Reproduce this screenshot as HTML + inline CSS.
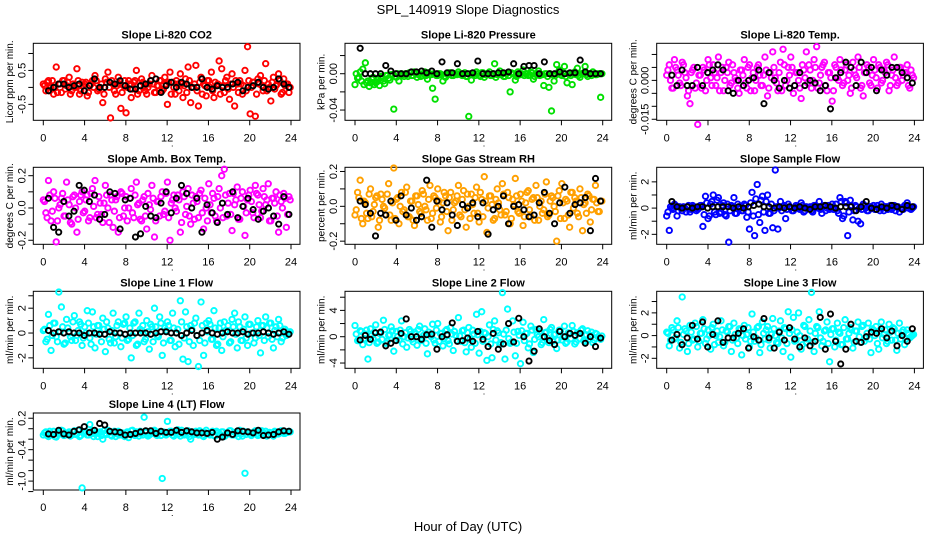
<!DOCTYPE html>
<html><head><meta charset="utf-8">
<style>
html,body{margin:0;padding:0;background:#fff;}
svg{display:block;font-family:"Liberation Sans",sans-serif;}
</style></head>
<body>
<svg id="fig" width="936" height="540" viewBox="0 0 936 540" xmlns="http://www.w3.org/2000/svg">
<text x="468" y="14" text-anchor="middle" font-size="13">SPL_140919  Slope Diagnostics</text>
<text x="468" y="531" text-anchor="middle" font-size="13">Hour of Day (UTC)</text>
</svg>
<script>
// ---------- data ----------
const hourTicks = [0,4,8,12,16,20,24];

const titles = ["Slope Li-820 CO2","Slope Li-820 Pressure","Slope Li-820 Temp.","Slope Amb. Box Temp.","Slope Gas Stream RH","Slope Sample Flow","Slope Line 1 Flow","Slope Line 2 Flow","Slope Line 3 Flow","Slope Line 4 (LT) Flow"];
const yTitles = ["Licor ppm per min.","kPa per min.","degrees C per min.","degrees C per min.","percent per min.","ml/min per min.","ml/min per min.","ml/min per min.","ml/min per min.","ml/min per min."];
const colors = ["#ff0000","#00e000","#ff00ff","#ff00ff","#ffa000","#0000ff","#00ffff","#00ffff","#00ffff","#00ffff"];
const yMax = [1.3,0.0335,0.0143,0.252,0.224,3.11,3.36,6.9,3.9,0.30];
const yMin = [-0.97,-0.0513,-0.0154,-0.225,-0.218,-2.76,-2.84,-4.8,-2.88,-1.17];
const yTicks = [[-0.5,0,0.5,1],[-0.04,-0.02,0,0.02],[-0.015,-0.01,-0.005,0,0.005,0.01],[-0.2,-0.1,0,0.1,0.2],[-0.2,-0.1,0,0.1,0.2],[-2,-1,0,1,2],[-2,-1,0,1,2,3],[-4,-2,0,2,4,6],[-2,-1,0,1,2,3],[-1.2,-1.0,-0.8,-0.6,-0.4,-0.2,0,0.2]];
const yTickLabels = [["-0.5","","0.5",""],["-0.04","","0.00",""],["-0.015","","","0.000","",""],["-0.2","","0.0","","0.2"],["-0.2","","0.0","","0.2"],["-2","","0","","2"],["-2","","0","","2",""],["-4","","0","","4",""],["-2","","0","","2",""],["","-1.0","","","-0.4","","","0.2"]];

const co2Vals = [0.1,-0.1,0.2,0.0,-0.2,0.6,0.1,-0.15,0.2,0.05,0.3,-0.1,0.0,0.55,-0.2,0.15,0.1,-0.25,0.05,0.2,0.35,-0.1,0.0,-0.45,0.25,0.45,-0.9,0.1,-0.2,0.3,-0.62,0.05,-0.75,0.2,-0.3,0.15,0.5,-0.1,0.25,0.0,-0.2,0.1,0.35,-0.15,0.05,0.2,-0.1,0.3,-0.5,0.45,0.15,-0.2,0.1,0.4,-0.3,0.25,0.6,-0.45,0.0,0.65,-0.55,0.3,0.1,-0.25,0.2,0.45,-0.3,0.05,0.78,0.55,-0.15,0.3,-0.35,0.4,-0.55,0.1,0.2,-0.2,0.5,1.2,-0.78,0.15,-0.85,0.25,0.35,-0.1,0.7,0.1,-0.4,0.3,0.05,0.4,-0.2,0.25,0.1,-0.15];
const co2Core = [0.05,0.15,-0.1,0.2,0.0,-0.15,0.1,0.2,-0.05,0.15,-0.2,0.1,0.0,0.2,-0.1,0.05,0.15,-0.15,0.1,0.0,0.2,-0.05,0.1,-0.2,0.15,0.0,0.2,-0.1,0.05,0.1,-0.15,0.2,0.0,0.1,-0.05,0.2,-0.2,0.05,0.15,-0.1,0.0,0.2,0.1,-0.15,0.05,0.2,-0.05,0.1,0.15,-0.2,0.0,0.2,-0.1,0.1,0.05,-0.15,0.2,0.0,0.1,-0.1,0.15,-0.2,0.05,0.2,0.0,-0.1,0.15,0.1,-0.2,0.05,0.2,-0.05,0.1,0.0,0.2,-0.15,0.1,0.05,-0.1,0.2,0.0,0.15,-0.2,0.1,0.05,0.2,-0.1,0.0,0.15,-0.05,0.1,0.2,-0.15,0.05,0.1,0.0];
const co2Black = [-0.1,0.0,0.1,0.1,0.0,0.05,0.1,-0.1,0.05,0.25,0.0,0.0,0.15,0.1,0.2,0.05,-0.05,-0.05,0.05,0.1,0.2,0.25,-0.15,0.05,0.15,0.0,0.15,0.1,0.0,0.0,0.25,0.0,-0.05,0.05,0.0,0.0,0.1,0.15,-0.1,0.0,0.05,0.15,0.0,-0.05,0.0,0.25,0.1,0.0];
const presVals = [-0.012,-0.005,0.002,0.005,0.012,-0.008,-0.01,-0.004,-0.01,-0.006,-0.003,-0.008,-0.002,-0.005,-0.001,-0.039,-0.004,-0.008,0.0,-0.003,-0.001,0.001,-0.002,0.002,-0.004,0.0,-0.002,0.002,-0.006,-0.001,-0.016,-0.028,-0.002,0.0,-0.008,-0.004,-0.001,0.001,-0.002,0.0,0.002,-0.001,0.0,-0.003,-0.047,-0.007,0.0,0.002,-0.002,0.001,-0.004,0.0,0.002,-0.002,0.011,-0.001,0.003,0.0,-0.003,0.001,-0.02,0.0,-0.007,0.002,-0.001,0.004,0.0,-0.002,0.002,-0.006,0.0,0.003,-0.001,-0.013,0.0,-0.015,-0.041,-0.008,0.01,0.004,-0.002,0.008,-0.01,0.0,-0.012,0.002,0.006,-0.004,0.0,0.008,-0.003,0.0,0.002,-0.001,0.0,-0.026];
const presCore = [0.0,-0.004,-0.008,-0.012,-0.01,-0.014,-0.006,-0.012,-0.009,-0.013,-0.004,-0.011,-0.002,-0.007,-0.001,-0.003,0.0,-0.002,-0.001,0.0,-0.003,0.001,-0.002,0.0,-0.001,-0.003,0.0,-0.002,0.001,-0.001,0.0,-0.002,0.0,-0.001,-0.003,0.0,0.001,-0.002,0.0,-0.001,0.0,-0.002,0.001,-0.003,0.0,-0.001,-0.002,0.0,-0.003,0.001,-0.001,0.0,-0.002,0.0,-0.004,0.0,-0.001,-0.003,0.0,-0.002,0.001,0.0,-0.003,-0.001,0.0,-0.002,0.0,-0.001,0.001,-0.003,0.0,-0.002,-0.001,0.0,-0.003,0.0,-0.001,-0.002,0.0,-0.001,0.001,-0.003,0.0,-0.002,0.0,-0.001,-0.002,0.0,0.001,-0.001,0.0,-0.002,0.0,-0.001,0.0,0.0];
const presBlack = [0.028,0.0,0.0,0.0,0.0,0.009,0.003,0.0,0.0,0.0,0.002,0.002,0.003,0.001,0.003,0.0,0.013,0.001,0.001,0.011,0.0,0.0,0.001,0.014,0.0,0.0,0.0,0.001,0.001,0.002,0.011,0.0,0.008,0.009,0.009,0.0,0.013,0.0,0.0,0.002,0.0,0.001,0.001,0.015,0.002,0.0,0.0,0.0];
const tempVals = [0.002,0.006,-0.003,0.008,0.004,-0.001,0.007,0.003,-0.006,-0.009,0.004,-0.003,-0.017,0.002,0.005,-0.004,0.008,0.001,0.006,-0.002,0.009,0.003,-0.004,0.005,0.007,-0.001,0.003,0.0,-0.005,0.004,0.008,-0.003,0.006,0.001,-0.004,0.005,0.002,-0.002,0.009,-0.006,0.003,0.011,0.001,-0.004,0.007,0.012,-0.002,0.005,0.009,-0.005,0.003,0.0,-0.007,0.004,0.011,0.006,-0.003,0.008,0.013,-0.001,0.005,0.007,-0.004,0.003,-0.008,0.006,0.001,0.008,-0.002,0.004,0.0,-0.005,0.007,0.002,0.009,-0.003,-0.006,0.003,0.005,-0.002,0.008,0.001,0.006,-0.001,0.004,0.007,-0.004,0.002,0.009,-0.002,0.005,0.0,0.003,0.006,-0.003,0.002];
const tempCore = [0.004,0.0,-0.003,0.005,0.002,-0.002,0.006,0.001,-0.004,0.003,0.005,-0.001,0.002,-0.003,0.004,0.0,0.006,-0.002,0.003,0.001,-0.004,0.005,0.0,0.003,-0.002,0.006,0.001,-0.003,0.004,0.002,-0.001,0.005,-0.004,0.003,0.0,0.006,-0.002,0.002,0.004,-0.003,0.001,0.005,-0.001,0.003,-0.004,0.006,0.0,0.002,0.005,-0.002,0.003,-0.003,0.006,0.001,-0.001,0.004,0.0,0.005,-0.003,0.002,0.006,-0.002,0.003,0.001,-0.004,0.005,0.0,0.004,-0.001,0.006,0.002,-0.003,0.004,0.001,0.005,-0.002,0.003,0.006,-0.001,0.002,0.004,-0.003,0.005,0.0,0.003,0.006,-0.002,0.004,0.001,-0.001,0.005,0.002,0.003,-0.002,0.004,0.001];
const tempBlack = [0.002,-0.002,0.004,-0.002,-0.002,0.005,-0.002,0.003,0.004,0.006,0.004,-0.004,-0.005,0.0,-0.002,0.0,0.001,0.004,-0.009,0.003,0.0,-0.003,0.0,-0.003,-0.002,0.003,-0.002,0.0,-0.001,-0.004,-0.002,-0.011,0.001,0.003,0.007,0.005,-0.002,0.007,0.003,0.005,-0.004,0.004,0.002,0.005,0.005,0.003,0.001,-0.001];
const ambVals = [0.05,-0.03,0.17,-0.08,0.1,-0.21,0.0,0.06,-0.05,0.16,0.02,-0.1,0.08,-0.15,0.04,0.1,-0.02,0.08,-0.06,0.12,0.17,-0.04,0.03,-0.09,0.14,0.0,0.08,-0.12,0.05,-0.15,0.1,-0.05,0.07,0.0,0.12,-0.06,0.16,0.03,-0.08,0.07,-0.13,0.02,0.14,-0.18,0.04,-0.05,0.1,-0.02,0.16,-0.2,0.05,0.0,0.08,-0.15,0.1,-0.04,0.12,-0.1,0.03,0.07,-0.06,0.11,-0.13,0.0,0.15,-0.03,0.06,-0.08,0.12,0.2,0.24,-0.05,0.09,-0.14,0.02,0.13,-0.07,0.1,-0.17,0.05,0.11,-0.03,0.14,0.08,-0.06,0.12,0.02,0.15,-0.08,0.06,0.1,-0.15,0.04,0.09,-0.12,0.07];
const ambCore = [0.04,-0.06,0.08,-0.02,0.06,-0.08,0.02,0.09,-0.05,0.05,-0.09,0.07,0.0,-0.07,0.08,-0.03,0.05,-0.08,0.09,0.01,-0.06,0.07,-0.04,0.03,0.08,-0.09,0.05,-0.02,0.07,-0.06,0.09,0.0,-0.08,0.06,-0.03,0.08,0.02,-0.07,0.05,-0.05,0.09,-0.01,0.06,-0.08,0.04,0.07,-0.04,0.09,-0.06,0.03,0.08,-0.02,0.05,-0.09,0.07,0.01,-0.05,0.08,-0.07,0.04,0.09,-0.03,0.06,-0.08,0.02,0.09,-0.05,0.07,0.0,-0.06,0.08,0.03,-0.04,0.09,0.05,-0.07,0.06,0.01,-0.03,0.08,0.04,-0.06,0.09,0.02,-0.02,0.07,0.05,-0.08,0.06,0.03,-0.05,0.08,0.0,0.06,-0.04,0.05];
const ambBlack = [0.06,-0.12,-0.15,0.04,-0.05,-0.02,0.14,0.11,0.04,0.08,-0.07,-0.04,0.1,0.09,-0.13,0.05,0.06,-0.18,-0.16,0.01,-0.05,-0.06,0.03,0.1,-0.03,0.06,0.14,0.09,0.0,0.06,-0.15,0.02,-0.03,-0.09,0.03,-0.04,0.1,-0.06,0.01,0.06,-0.01,-0.07,-0.02,0.0,-0.05,-0.1,0.07,-0.04];
const rhVals = [-0.05,0.08,0.15,-0.1,0.02,-0.07,0.1,-0.03,0.05,-0.12,0.07,0.0,-0.05,0.13,-0.08,0.22,0.04,-0.1,0.08,-0.02,0.11,-0.06,0.03,-0.11,0.06,-0.03,0.09,0.0,-0.08,0.12,-0.04,0.05,0.1,-0.09,0.02,0.06,-0.14,0.08,-0.02,0.03,0.12,-0.06,0.09,-0.12,0.0,0.07,-0.04,0.11,-0.09,0.04,0.17,-0.15,0.06,0.01,-0.07,0.1,-0.02,0.13,-0.05,0.08,-0.1,0.04,0.16,-0.03,0.07,-0.11,0.02,0.09,-0.06,0.05,0.12,-0.08,0.03,-0.02,0.14,-0.05,0.06,0.0,-0.2,0.09,0.13,-0.07,0.03,-0.12,0.08,0.05,-0.04,0.1,-0.14,0.02,0.07,-0.09,0.04,0.12,-0.03,0.03];
const rhCore = [-0.02,0.05,-0.07,0.03,-0.04,0.07,-0.06,0.01,0.06,-0.08,0.04,-0.01,0.07,-0.05,0.02,-0.07,0.05,0.0,-0.03,0.08,-0.06,0.03,-0.08,0.06,0.01,-0.04,0.07,-0.02,0.04,-0.07,0.06,-0.01,0.03,-0.06,0.08,-0.03,0.05,-0.08,0.02,0.06,-0.05,0.04,-0.02,0.07,-0.07,0.01,0.05,-0.04,0.08,-0.06,0.03,-0.01,0.06,-0.08,0.04,0.02,-0.05,0.07,-0.03,0.05,-0.07,0.01,0.06,-0.04,0.03,-0.06,0.08,-0.02,0.04,-0.08,0.05,0.0,-0.04,0.07,-0.06,0.03,0.05,-0.03,0.06,-0.07,0.02,0.04,-0.05,0.08,-0.01,0.03,-0.06,0.05,0.01,-0.04,0.06,-0.02,0.04,0.02,-0.03,0.03];
const rhBlack = [0.03,0.01,-0.04,-0.17,-0.04,-0.05,0.03,-0.08,0.06,-0.05,-0.01,-0.08,-0.06,0.15,-0.12,0.03,-0.02,0.02,-0.05,-0.11,0.01,-0.01,0.02,-0.06,0.02,-0.16,-0.02,0.0,0.06,-0.1,0.0,0.01,-0.02,-0.06,-0.05,0.02,0.08,-0.04,-0.1,0.02,0.11,-0.04,0.01,0.02,0.05,-0.14,0.16,0.03];
const sampVals = [-0.6,-1.7,0.0,0.3,-0.6,0.1,-0.2,0.0,0.1,-0.3,0.2,0.0,-0.1,0.2,-1.4,0.9,-0.8,0.3,1.0,-0.5,0.8,-0.3,0.4,-0.6,-2.6,0.2,0.8,-0.4,0.1,-0.2,0.3,-0.7,-1.6,1.2,-2.1,1.8,-1.1,0.9,-1.7,1.0,-0.4,-1.5,2.9,-1.6,0.5,0.1,-0.8,0.3,0.0,-0.2,0.2,0.0,0.4,-0.3,0.1,0.0,-0.2,0.2,0.1,0.5,-0.4,0.2,0.0,-0.1,0.3,0.0,-0.2,0.8,-0.8,0.5,-2.1,0.6,-0.9,0.2,-1.0,-1.2,0.3,0.0,-0.2,0.1,0.2,-0.1,0.0,0.3,-0.2,0.1,0.0,-0.1,0.2,0.1,-0.3,0.0,0.2,0.4,0.1,0.0];
const sampCore = [-0.3,0.1,-0.1,0.2,-0.2,0.0,0.1,-0.3,0.2,-0.1,0.1,-0.2,0.0,0.2,-0.5,0.4,-0.6,0.5,-0.3,0.6,-0.4,0.2,-0.5,0.3,-0.2,0.1,-0.4,0.3,0.0,-0.2,0.2,-0.3,0.4,-0.6,0.7,-0.5,0.6,-0.3,0.5,-0.4,0.3,-0.2,0.1,0.0,-0.2,0.2,-0.1,0.1,-0.2,0.0,0.1,-0.1,0.2,-0.2,0.0,0.1,-0.3,0.2,0.0,-0.1,0.1,-0.2,0.2,0.0,-0.1,0.3,-0.4,0.5,-0.6,0.4,-0.3,0.2,-0.2,0.1,0.0,-0.1,0.2,-0.2,0.1,0.0,-0.1,0.2,-0.2,0.0,0.1,-0.1,0.2,0.0,-0.2,0.1,0.0,-0.1,0.2,0.0,-0.1,0.1];
const sampBlack = [0.5,0.1,0.0,0.1,0.0,0.1,0.1,0.0,0.1,0.1,0.1,0.1,0.0,0.1,0.0,0.1,0.2,0.3,0.1,0.1,0.0,0.1,0.0,0.1,0.0,0.1,0.0,-0.1,0.1,0.1,0.2,0.1,0.0,0.1,0.1,0.1,-0.2,0.1,0.5,0.0,-0.1,0.1,0.0,0.2,0.1,-0.1,0.2,0.1];
const l1Vals = [0.2,-0.7,1.5,-1.4,0.8,-0.3,3.3,2.1,-0.9,1.1,0.0,-0.6,1.4,-0.2,0.9,-1.0,0.5,1.8,-0.4,1.7,-1.2,0.6,0.0,1.2,-1.5,0.4,-0.8,1.6,-0.3,0.9,-1.1,0.7,1.3,-0.5,-2.0,0.8,-1.0,1.6,0.2,-0.7,1.0,-1.3,0.5,2.0,-0.2,1.3,-1.8,0.4,0.9,-0.6,1.6,-1.1,0.3,2.6,-2.1,1.7,-2.3,0.6,-1.0,1.2,-2.7,2.5,-1.8,0.8,1.0,-0.5,1.8,-1.0,0.4,-1.4,0.9,0.2,-0.8,1.1,1.6,-1.2,0.5,-0.6,1.3,-1.0,0.7,0.0,-0.4,1.0,-1.6,0.6,1.3,-0.3,0.8,-1.2,0.5,1.1,-0.7,0.3,-0.2,0.0];
const l1Core = [0.3,-0.5,0.6,-0.2,0.8,-0.7,0.1,0.5,-0.8,0.4,-0.3,0.9,-0.6,0.2,0.7,-0.4,0.0,0.8,-0.9,0.5,-0.1,0.6,-0.7,0.3,0.9,-0.5,0.2,-0.8,0.6,0.0,-0.4,0.8,-0.6,0.4,-0.2,0.9,-0.9,0.3,0.6,-0.5,0.1,0.7,-0.7,0.5,-0.3,0.8,-0.8,0.2,0.6,-0.6,0.4,0.0,-0.9,0.9,-0.4,0.5,-0.7,0.3,0.8,-0.2,-0.6,0.6,-0.8,0.1,0.7,-0.5,0.4,-0.9,0.8,-0.3,0.2,0.6,-0.7,0.5,-0.1,0.9,-0.6,0.3,-0.4,0.7,0.0,-0.8,0.5,-0.2,0.6,-0.6,0.4,0.8,-0.5,0.2,-0.3,0.6,-0.4,0.3,-0.1,0.1];
const l1Black = [0.2,0.0,0.1,0.0,0.1,0.0,0.0,-0.2,0.0,0.0,-0.1,-0.1,0.1,0.0,0.0,-0.1,0.0,0.0,0.0,0.0,-0.1,0.0,0.1,0.1,0.0,0.0,-0.2,0.0,0.2,-0.2,0.0,0.2,0.0,-0.1,0.0,0.1,0.0,0.0,0.1,-0.1,0.0,0.0,0.1,0.0,-0.1,0.0,0.1,-0.1];
const l2Vals = [1.7,-0.6,0.9,-1.2,0.4,-3.4,1.2,-0.3,1.8,-0.8,0.6,2.5,-1.0,0.2,1.5,-2.2,0.8,-0.5,2.4,0.0,-1.6,1.1,-0.4,0.7,-1.3,1.6,-0.2,1.2,-2.6,0.3,1.9,-1.0,2.0,0.5,-1.4,0.9,-0.6,1.4,-2.1,0.2,2.9,-0.7,1.0,-2.3,1.4,-1.6,0.4,3.4,-2.5,3.8,0.6,-3.6,1.8,-3.2,2.4,0.9,-1.2,6.7,-3.4,4.2,-1.0,2.4,-2.9,0.8,-4.1,2.2,0.5,-1.7,1.6,-2.4,1.1,0.0,-1.2,2.6,0.7,-0.9,1.4,0.3,-1.8,1.0,-0.5,1.6,-0.8,0.4,1.7,-1.1,0.6,-0.3,1.2,-0.7,0.9,0.2,-0.9,0.5,0.0,-0.4];
const l2Core = [0.4,-0.6,0.8,-0.3,1.0,-0.9,0.2,0.7,-1.0,0.5,-0.4,1.1,-0.7,0.3,0.9,-0.5,0.0,1.0,-1.1,0.6,-0.2,0.8,-0.8,0.4,1.1,-0.6,0.2,-1.0,0.7,0.0,-0.5,1.0,-0.7,0.5,-0.3,1.1,-1.1,0.4,0.8,-0.6,0.1,0.9,-0.9,0.6,-0.4,1.0,-1.0,0.3,0.8,-0.7,0.5,0.0,-1.1,1.1,-0.5,0.6,-0.9,0.4,1.0,-0.3,-0.8,0.7,-1.0,0.2,0.9,-0.6,0.5,-1.1,1.0,-0.4,0.3,0.8,-0.9,0.6,-0.2,1.1,-0.7,0.4,-0.5,0.9,0.0,-1.0,0.6,-0.3,0.8,-0.8,0.5,1.0,-0.6,0.3,-0.4,0.7,-0.5,0.4,-0.2,0.1];
const l2Black = [-0.5,0.2,-0.4,0.6,0.7,-1.4,-1.0,-0.6,0.5,2.7,0.0,0.0,-0.4,0.3,0.4,-1.9,0.0,0.3,2.1,-0.7,-0.6,-0.2,-0.7,0.8,-0.4,-1.5,0.5,-1.9,-1.1,2.0,-0.8,2.8,0.0,-3.7,-2.2,1.2,0.0,-0.6,-1.2,0.8,0.0,0.5,0.2,0.5,-1.0,0.0,-1.5,-0.2];
const l3Vals = [0.3,-0.9,0.7,-0.3,1.3,-1.1,3.4,0.6,-1.4,0.9,-0.4,1.1,-1.0,0.2,1.4,-0.7,0.5,-1.2,1.0,0.0,-0.6,1.3,-0.9,0.4,0.8,-1.4,1.1,-0.2,0.6,-1.7,0.9,0.1,-1.0,1.9,-0.5,0.7,-1.5,1.2,-0.3,0.8,-1.1,1.5,0.0,-0.7,1.3,-1.4,0.6,2.1,-1.9,1.6,-0.4,2.0,-1.2,0.9,-0.6,1.4,3.8,-1.4,0.8,2.1,-0.9,0.4,1.2,-2.3,0.6,-1.0,1.1,0.2,-0.8,1.4,-0.3,0.7,-1.1,0.4,1.2,-0.6,0.9,-0.2,1.1,-1.5,0.5,0.8,-1.2,1.2,0.1,-0.7,1.0,-0.4,0.6,-1.3,1.1,0.3,-0.8,0.5,-0.2,0.0];
const l3Core = [0.2,-0.4,0.5,-0.2,0.7,-0.6,0.1,0.4,-0.7,0.3,-0.3,0.8,-0.5,0.2,0.6,-0.3,0.0,0.7,-0.8,0.4,-0.1,0.5,-0.6,0.3,0.8,-0.4,0.1,-0.7,0.5,0.0,-0.3,0.7,-0.5,0.3,-0.2,0.8,-0.8,0.2,0.5,-0.4,0.1,0.6,-0.6,0.4,-0.2,0.7,-0.7,0.2,0.5,-0.5,0.3,0.0,-0.8,0.8,-0.3,0.4,-0.6,0.2,0.7,-0.2,-0.5,0.5,-0.7,0.1,0.6,-0.4,0.3,-0.8,0.7,-0.3,0.2,0.5,-0.6,0.4,-0.1,0.8,-0.5,0.2,-0.3,0.6,0.0,-0.7,0.4,-0.2,0.5,-0.5,0.3,0.7,-0.4,0.2,-0.3,0.5,-0.3,0.2,-0.1,0.1];
const l3Black = [-0.4,0.1,-0.8,-0.2,0.9,-0.3,1.2,-1.0,0.1,1.3,-0.6,-0.2,-0.2,0.2,0.6,-1.1,-0.1,-0.4,1.5,-0.2,-1.1,0.3,-0.4,0.7,-0.3,-1.0,-0.2,-0.9,-0.5,1.6,-1.2,1.9,-0.5,-2.5,-1.2,1.0,-0.5,-0.6,-0.1,0.3,0.2,0.6,-0.2,0.4,-0.9,0.0,-0.5,0.6];
const l4Vals = [-0.12,-0.06,-0.15,-0.1,-0.05,-0.16,-0.08,-0.03,-0.13,-0.09,-0.06,-0.12,-0.04,-0.1,-0.15,-1.13,-0.07,-0.12,0.08,-0.04,-0.1,-0.15,-0.06,-0.2,-0.09,-0.03,-0.12,-0.07,-0.15,-0.05,-0.1,-0.13,-0.08,-0.17,-0.04,-0.11,-0.06,-0.14,-0.09,0.22,-0.05,-0.12,-0.08,-0.03,-0.13,-0.06,-0.95,-0.1,0.14,-0.05,-0.12,-0.08,-0.02,-0.14,-0.07,-0.11,-0.04,-0.2,-0.09,-0.05,-0.12,-0.07,-0.15,-0.03,-0.1,-0.08,-0.13,-0.05,-0.11,-0.06,-0.15,-0.09,-0.04,-0.12,-0.07,-0.1,-0.03,-0.14,-0.85,-0.06,-0.11,-0.08,-0.04,-0.13,-0.07,-0.1,-0.05,-0.12,-0.08,-0.14,-0.06,-0.1,-0.04,-0.09,-0.06,-0.05];
const l4Core = [-0.08,-0.13,-0.05,-0.11,-0.15,-0.07,-0.1,-0.04,-0.12,-0.09,-0.14,-0.06,-0.11,-0.03,-0.13,-0.08,-0.05,-0.12,-0.1,-0.15,-0.06,-0.09,-0.13,-0.04,-0.11,-0.07,-0.14,-0.05,-0.1,-0.12,-0.08,-0.15,-0.06,-0.11,-0.03,-0.13,-0.09,-0.05,-0.12,-0.07,-0.14,-0.1,-0.04,-0.11,-0.08,-0.13,-0.06,-0.12,-0.09,-0.05,-0.14,-0.07,-0.1,-0.03,-0.12,-0.08,-0.15,-0.06,-0.11,-0.09,-0.04,-0.13,-0.07,-0.1,-0.12,-0.05,-0.14,-0.08,-0.11,-0.06,-0.13,-0.09,-0.04,-0.12,-0.07,-0.15,-0.1,-0.05,-0.11,-0.08,-0.13,-0.06,-0.1,-0.12,-0.04,-0.09,-0.14,-0.07,-0.11,-0.05,-0.1,-0.08,-0.06,-0.09,-0.07,-0.06];
const l4Black = [-0.1,-0.11,-0.03,-0.1,-0.12,-0.05,-0.02,0.04,-0.07,-0.03,0.1,0.07,-0.05,-0.06,-0.07,-0.12,-0.11,-0.09,-0.06,-0.04,-0.04,-0.09,-0.05,-0.07,-0.07,-0.03,-0.07,-0.04,-0.06,-0.08,-0.08,-0.09,-0.07,-0.2,-0.16,-0.08,-0.11,-0.04,-0.05,-0.06,-0.08,-0.03,-0.13,-0.12,-0.11,-0.06,-0.04,-0.05];

const colorSeries = [co2Vals,presVals,tempVals,ambVals,rhVals,sampVals,l1Vals,l2Vals,l3Vals,l4Vals];
const coreSeries = [co2Core,presCore,tempCore,ambCore,rhCore,sampCore,l1Core,l2Core,l3Core,l4Core];
const blackSeries = [co2Black,presBlack,tempBlack,ambBlack,rhBlack,sampBlack,l1Black,l2Black,l3Black,l4Black];

// ---------- drawing ----------
const NS = "http://www.w3.org/2000/svg";
const svg = document.getElementById("fig");
const colStep = 311.7, rowTops = [43.3,167.3,291.3,413], boxH = 77, boxL = 33.3, boxR = 300, x0 = 43.3, x24 = 291;
function mk(tag, attrs, parent){ const e = document.createElementNS(NS, tag); for (const k in attrs) e.setAttribute(k, attrs[k]); (parent||svg).appendChild(e); return e; }

for (let p = 0; p < 10; p++) {
  const col = p % 3, row = Math.floor(p / 3);
  const ox = col * colStep, top = rowTops[row], bot = top + boxH;
  const xs = h => ox + x0 + (x24 - x0) * h / 24;
  const ys = v => top + (yMax[p] - v) / (yMax[p] - yMin[p]) * boxH;
  const g = mk("g", {});
  
  

  const t = mk("text", {x: ox + (boxL + boxR) / 2, y: top - 5, "text-anchor": "middle", "font-size": "11", "font-weight": "bold"}, g);
  t.textContent = titles[p];
  
  

  const yt = mk("text", {transform: `translate(${ox + 13},${top + boxH / 2}) rotate(-90)`, "text-anchor": "middle", "font-size": "10"}, g);
  yt.textContent = yTitles[p];
  
  

  const box = mk("rect", {x: ox + boxL, y: top, width: boxR - boxL, height: boxH, fill: "none", stroke: "#000", "stroke-width": "1"}, g);
  
  

  hourTicks.forEach(h => {
    const tk = mk("line", {x1: xs(h), x2: xs(h), y1: bot, y2: bot + 5, stroke: "#000"}, g);
    
    
    const tl = mk("text", {x: xs(h), y: bot + 21, "text-anchor": "middle", "font-size": "11"}, g);
    tl.textContent = String(h);
    
    
  });
  const dot = mk("text", {x: xs(12.5), y: bot + 26, "text-anchor": "middle", "font-size": "9"}, g);
  dot.textContent = ".";
  
  

  yTicks[p].forEach((v, i) => {
    const tk = mk("line", {x1: ox + boxL - 5, x2: ox + boxL, y1: ys(v), y2: ys(v), stroke: "#000"}, g);
    
    
    if (yTickLabels[p][i]) {
      const tl = mk("text", {transform: `translate(${ox + boxL - 8},${ys(v)}) rotate(-90)`, "text-anchor": "middle", "font-size": "11"}, g);
      tl.textContent = yTickLabels[p][i];
      
      
    }
  });

  [coreSeries[p], colorSeries[p]].forEach((cs, k) => {
    cs.forEach((v, i) => {
      const h = (k === 0 ? 0.12 : 0) + i * 23.8 / (cs.length - 1);
      const c = mk("circle", {cx: xs(h), cy: ys(v), r: 2.7, fill: "none", stroke: colors[p], "stroke-width": "1.9"}, g);
      
      
    });
  });
  const bs = blackSeries[p];
  bs.forEach((v, i) => {
    const h = 0.5 + i * 23.3 / (bs.length - 1);
    const c = mk("circle", {cx: xs(h), cy: ys(v), r: 2.6, fill: "none", stroke: "#000", "stroke-width": "1.9"}, g);
    
    
  });
}
</script>
</body></html>
